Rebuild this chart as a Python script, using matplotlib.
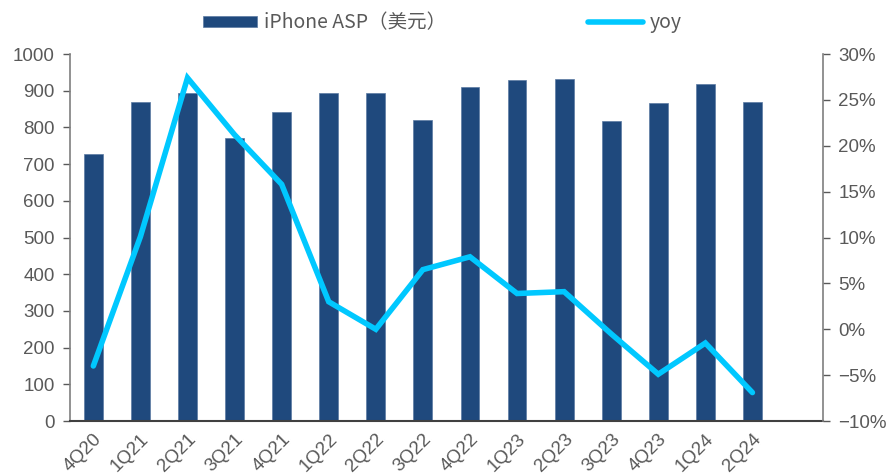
import matplotlib.pyplot as plt
import numpy as np
from matplotlib.ticker import FuncFormatter

plt.rcParams['font.family'] = ['Liberation Sans', 'Noto Sans CJK SC', 'DejaVu Sans']
plt.rcParams['axes.unicode_minus'] = True

quarters = ['4Q20', '1Q21', '2Q21', '3Q21', '4Q21', '1Q22', '2Q22', '3Q22',
            '4Q22', '1Q23', '2Q23', '3Q23', '4Q23', '1Q24', '2Q24']
asp = [727, 868, 894, 770, 842, 894, 895, 820, 909, 929, 933, 817, 866, 917, 869]
yoy = [-4.0, 10.1, 27.4, 21.2, 15.8, 3.0, 0.0, 6.5, 7.9, 3.9, 4.1, -0.5, -4.9, -1.5, -6.9]

bar_color = '#1F497D'
line_color = '#00C8FF'
text_color = '#595959'

fig = plt.figure(figsize=(8.95, 4.76), dpi=100)
ax = fig.add_axes([0.078, 0.1155, 0.8416, 0.771])
ax2 = ax.twinx()

x = np.arange(len(quarters))
ax.bar(x, asp, width=0.4, color=bar_color, edgecolor='#5B7AA3', linewidth=0.5,
       label='iPhone ASP（美元）', zorder=2)
ax2.plot(x, yoy, color=line_color, linewidth=4, solid_capstyle='round',
         solid_joinstyle='miter', label='yoy', zorder=3)

ax.set_xlim(-0.5, len(quarters) + 0.5)
ax.set_ylim(0, 1000)
ax.set_yticks(range(0, 1001, 100))
ax2.set_ylim(-10, 30)
ax2.set_yticks(range(-10, 31, 5))
ax2.yaxis.set_major_formatter(FuncFormatter(lambda v, p: f'{v:.0f}%'.replace('-', '\u2212')))

ax.set_xticks(x)
ax.set_xticklabels(quarters, rotation=45, ha='right', rotation_mode='anchor')

for a in (ax, ax2):
    a.spines['top'].set_visible(False)
    a.tick_params(axis='y', direction='out', length=5, width=1, colors='#595959',
                  labelcolor=text_color, labelsize=13.5, pad=6)
ax.tick_params(axis='x', length=0, labelcolor=text_color, labelsize=13.5, pad=7)
ax.spines['left'].set_color('#7F7F7F')
ax.spines['left'].set_linewidth(1.2)
ax.spines['bottom'].set_color('#404040')
ax.spines['bottom'].set_linewidth(1.5)
ax.spines['right'].set_visible(False)
ax2.spines['left'].set_visible(False)
ax2.spines['bottom'].set_visible(False)
ax2.spines['right'].set_color('#7F7F7F')
ax2.spines['right'].set_linewidth(1.2)

h1, l1 = ax.get_legend_handles_labels()
h2, l2 = ax2.get_legend_handles_labels()
leg = fig.legend(h1 + h2, l1 + l2, ncol=2, loc='center', bbox_to_anchor=(0.494, 0.952),
                 frameon=False, columnspacing=7.3, handlelength=2.8, handleheight=0.55,
                 handletextpad=0.35,
                 prop={'family': ['Noto Sans CJK SC', 'DejaVu Sans'], 'size': 14})
for t in leg.get_texts():
    t.set_color(text_color)

fig.savefig('out.png', dpi=100)
